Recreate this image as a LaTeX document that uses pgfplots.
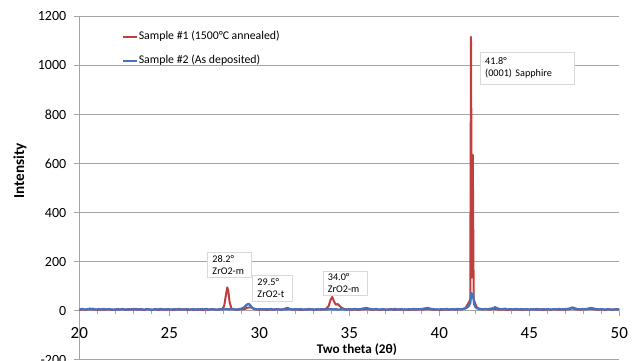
\documentclass[border=0pt]{standalone}
\usepackage{fontspec}
\setmainfont{Carlito}
\usepackage{pgfplots}
\usepackage{pgfplotstable}
\pgfplotsset{compat=1.18}
\definecolor{exred}{RGB}{192,62,60}
\definecolor{exblue}{RGB}{68,114,190}
\definecolor{gridgray}{RGB}{165,165,165}

\pgfplotstableread{
x y
20.0 3
20.2 5
20.4 4
20.6 9
20.7 4
20.8 6
21.0 3
21.2 5
21.4 4
21.6 6
21.8 3
22.0 5
22.2 4
22.4 6
22.6 3
22.8 5
23.0 7
23.2 4
23.4 5
23.6 3
23.8 6
24.0 4
24.2 5
24.4 3
24.6 6
24.8 4
25.0 5
25.2 3
25.4 5
25.6 4
25.8 6
26.0 3
26.2 5
26.4 4
26.6 6
26.8 3
27.0 5
27.2 4
27.4 6
27.6 4
27.8 5
27.95 7
28.05 20
28.15 65
28.22 95
28.28 80
28.35 35
28.45 9
28.6 5
28.8 4
29.0 5
29.2 7
29.35 12
29.5 14
29.65 9
29.8 5
30.0 4
30.2 6
30.4 3
30.6 5
30.8 4
31.0 6
31.2 4
31.4 7
31.55 12
31.7 7
31.9 4
32.1 5
32.3 3
32.5 5
32.7 4
32.9 6
33.1 4
33.3 5
33.5 4
33.7 7
33.85 18
33.95 42
34.05 56
34.15 38
34.25 24
34.35 27
34.45 20
34.55 13
34.7 7
34.9 5
35.1 4
35.3 5
35.5 3
35.7 5
35.9 6
36.1 5
36.3 4
36.5 5
36.7 3
36.9 5
37.1 4
37.3 6
37.5 3
37.7 5
37.9 4
38.1 5
38.3 3
38.5 5
38.7 4
38.9 6
39.1 4
39.3 7
39.5 5
39.7 4
39.9 5
40.1 3
40.3 5
40.5 4
40.7 6
40.9 4
41.1 5
41.3 6
41.45 10
41.55 22
41.65 35
41.72 45
41.76 1116
41.81 135
41.86 635
41.91 45
41.98 32
42.08 14
42.2 8
42.4 5
42.6 6
42.8 4
43.0 7
43.2 5
43.4 4
43.6 5
43.8 3
44.0 5
44.2 4
44.4 6
44.6 3
44.8 5
45.0 4
45.2 6
45.4 4
45.6 5
45.8 3
46.0 5
46.2 4
46.4 6
46.6 4
46.8 5
47.0 4
47.2 6
47.4 9
47.6 5
47.8 4
48.0 5
48.2 6
48.4 8
48.6 5
48.8 4
49.0 5
49.2 3
49.4 5
49.6 4
49.8 5
50.0 4
}\sampleA

\pgfplotstableread{
x y
20.0 5
20.15 7
20.3 4
20.45 6
20.6 5
20.75 8
20.9 4
21.05 6
21.2 5
21.35 7
21.5 4
21.65 6
21.8 5
21.95 3
22.1 6
22.25 5
22.4 7
22.55 4
22.7 6
22.85 5
23.0 4
23.15 7
23.3 5
23.45 6
23.6 4
23.75 6
23.9 5
24.05 3
24.2 6
24.35 5
24.5 7
24.65 4
24.8 5
24.95 6
25.1 4
25.25 6
25.4 5
25.55 7
25.7 4
25.85 5
26.0 6
26.15 4
26.3 6
26.45 5
26.6 3
26.75 6
26.9 5
27.05 7
27.2 4
27.35 6
27.5 5
27.65 4
27.8 6
27.95 5
28.1 7
28.25 6
28.4 5
28.55 6
28.7 4
28.85 6
29.0 8
29.15 13
29.3 24
29.4 28
29.5 22
29.6 12
29.75 7
29.9 5
30.05 6
30.2 4
30.35 6
30.5 5
30.65 7
30.8 4
30.95 6
31.1 5
31.25 4
31.4 6
31.55 5
31.7 7
31.85 4
32.0 6
32.15 5
32.3 6
32.45 4
32.6 5
32.75 7
32.9 5
33.05 4
33.2 6
33.35 5
33.5 6
33.65 4
33.8 6
33.95 7
34.1 5
34.25 6
34.4 4
34.55 6
34.7 5
34.85 4
35.0 6
35.15 5
35.3 7
35.45 5
35.6 6
35.75 8
35.9 11
36.05 9
36.2 6
36.35 5
36.5 7
36.65 4
36.8 6
36.95 5
37.1 4
37.25 6
37.4 5
37.55 7
37.7 4
37.85 6
38.0 5
38.15 4
38.3 6
38.45 5
38.6 7
38.75 5
38.9 6
39.05 7
39.2 9
39.35 11
39.5 8
39.65 6
39.8 5
39.95 4
40.1 6
40.25 5
40.4 7
40.55 4
40.7 6
40.85 5
41.0 7
41.15 5
41.3 7
41.45 9
41.55 13
41.65 20
41.72 30
41.78 72
41.83 55
41.88 68
41.93 28
42.0 15
42.1 9
42.25 7
42.4 5
42.55 7
42.7 6
42.85 8
43.0 10
43.1 14
43.2 10
43.35 7
43.5 6
43.65 8
43.8 5
43.95 6
44.1 5
44.25 7
44.4 4
44.55 6
44.7 5
44.85 6
45.0 4
45.15 6
45.3 5
45.45 7
45.6 4
45.75 6
45.9 5
46.05 6
46.2 4
46.35 6
46.5 5
46.65 7
46.8 5
46.95 6
47.1 7
47.25 9
47.4 13
47.55 9
47.7 6
47.85 5
48.0 7
48.15 6
48.3 9
48.45 11
48.6 8
48.75 6
48.9 5
49.05 6
49.2 4
49.35 6
49.5 5
49.65 4
49.8 6
50.0 5
}\sampleB

\begin{document}
\begin{tikzpicture}
\begin{axis}[
  scale only axis,
  width=270pt, height=171.7pt,
  xmin=20, xmax=50, ymin=-200, ymax=1200,
  axis x line*=middle, axis y line*=left,
  hide obscured x ticks=false,
  xtick={20,25,...,50}, minor x tick num=4,
  ytick={-200,0,200,...,1200},
  ymajorgrids,
  major grid style={gridgray, line width=0.5pt},
  axis line style={gridgray, line width=0.5pt},
  tick style={gridgray, line width=0.5pt},
  tick align=outside,
  major tick length=2.5pt, minor tick length=1.5pt,
  /pgf/number format/assume math mode=true,
  /pgf/number format/1000 sep={},
  xticklabel style={font=\fontsize{8.5}{10}\selectfont, yshift=-2.5pt},
  yticklabel style={font=\fontsize{7}{9}\selectfont, xshift=-0.5pt},
  xlabel={Two theta (2θ)},
  xlabel style={at={(axis description cs:0.514,0.028)}, anchor=center, font=\fontsize{6.6}{8}\selectfont\bfseries},
  ylabel={Intensity},
  ylabel style={at={(axis description cs:-0.11,0.55)}, anchor=center, font=\fontsize{7.6}{9}\selectfont\bfseries},
  legend style={draw=none, fill=none, at={(axis description cs:0.078,0.962)}, anchor=north west,
    font=\fontsize{5.9}{7}\selectfont, inner sep=0pt, row sep=5.4pt,
    nodes={inner sep=0.5pt}},
  legend cell align=left,
  legend image code/.code={\draw[#1, line width=1pt] (0pt,0pt) -- (7pt,0pt);},
]
\addplot[exred, line width=1pt, line join=round] table[x=x,y=y] {\sampleA};
\addlegendentry{Sample \#1 (1500°C annealed)}
\addplot[exblue, line width=1.1pt, line join=round] table[x=x,y=y] {\sampleB};
\addlegendentry{Sample \#2 (As deposited)}

\tikzset{annot/.style={draw=gray!30, fill=white, anchor=north west, align=left,
  inner xsep=2.4pt, inner ysep=0pt, font=\fontsize{5.1}{6}\selectfont}}
\node[annot, text width=42.4pt, minimum height=15.8pt] at (axis cs:42.26,1054.7) {41.8°\\(0001) Sapphire};
\node[annot, text width=17.1pt, minimum height=12.7pt] at (axis cs:27.11,240.8) {28.2°\\ZrO2-m};
\node[annot, text width=15.1pt, minimum height=12.9pt] at (axis cs:29.61,145.7) {29.5°\\ZrO2-t};
\node[annot, text width=17.5pt, minimum height=12.2pt] at (axis cs:33.52,162.4) {34.0°\\ZrO2-m};
\end{axis}
\pgfresetboundingbox
\useasboundingbox (-39.65pt,-0.15pt) rectangle (278.35pt,179.85pt);
\end{tikzpicture}
\end{document}
